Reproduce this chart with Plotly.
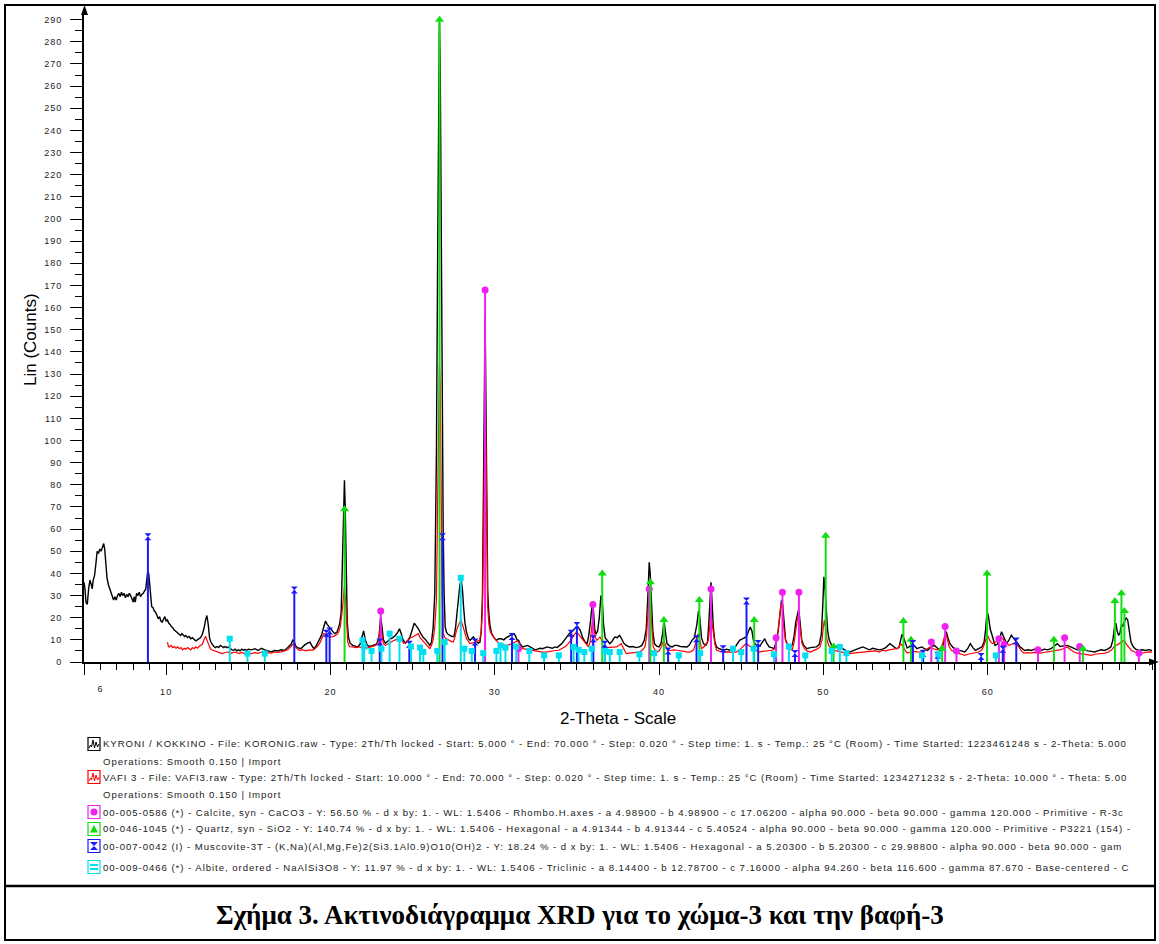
import plotly.graph_objects as go

# ---------------- data ----------------
kyroni_2theta = [5.00,5.06,5.12,5.20,5.28,5.36,5.44,5.50,5.56,5.64,5.72,5.80,5.88,5.96,6.04,6.12,6.20,6.26,6.32,6.40,6.48,6.56,6.64,6.72,6.80,6.88,6.96,7.04,7.12,7.20,7.28,7.36,7.44,7.52,7.60,7.68,7.76,7.84,7.92,8.00,8.06,8.12,8.20,8.28,8.36,8.44,8.52,8.60,8.68,8.76,8.82,8.88,8.94,9.00,9.06,9.12,9.20,9.28,9.36,9.44,9.52,9.60,9.68,9.76,9.84,9.92,10.00,10.08,10.16,10.24,10.32,10.40,10.48,10.56,10.64,10.72,10.80,10.88,10.96,11.04,11.12,11.20,11.30,11.40,11.50,11.60,11.70,11.80,11.90,12.00,12.10,12.20,12.30,12.40,12.48,12.56,12.64,12.72,12.80,12.90,13.00,13.10,13.20,13.30,13.40,13.50,13.60,13.70,13.80,13.90,14.00,14.10,14.20,14.30,14.40,14.50,14.60,14.70,14.80,14.90,15.00,15.20,15.40,15.60,15.80,16.00,16.20,16.40,16.60,16.80,17.00,17.20,17.40,17.60,17.70,17.80,17.90,18.00,18.20,18.40,18.60,18.75,18.90,19.00,19.15,19.30,19.45,19.60,19.70,19.80,19.90,20.00,20.10,20.25,20.40,20.55,20.65,20.72,20.80,20.85,20.90,20.96,21.02,21.10,21.20,21.35,21.50,21.65,21.80,21.92,22.02,22.12,22.25,22.40,22.60,22.80,22.95,23.05,23.12,23.22,23.35,23.50,23.65,23.80,23.95,24.10,24.20,24.30,24.42,24.55,24.70,24.85,25.00,25.10,25.20,25.35,25.50,25.65,25.80,25.95,26.05,26.15,26.25,26.35,26.45,26.52,26.58,26.63,26.68,26.74,26.80,26.86,26.92,26.98,27.06,27.16,27.27,27.40,27.52,27.62,27.70,27.80,27.88,27.96,28.04,28.10,28.18,28.28,28.40,28.50,28.60,28.70,28.85,29.00,29.10,29.18,29.25,29.31,29.36,29.41,29.46,29.51,29.57,29.63,29.70,29.80,29.95,30.10,30.25,30.40,30.55,30.70,30.85,31.00,31.15,31.25,31.35,31.45,31.55,31.70,31.85,32.00,32.15,32.30,32.45,32.60,32.75,32.90,33.05,33.20,33.35,33.50,33.65,33.80,33.95,34.10,34.25,34.40,34.55,34.67,34.80,34.95,35.05,35.20,35.35,35.50,35.62,35.72,35.82,35.92,36.00,36.08,36.16,36.26,36.36,36.46,36.54,36.62,36.72,36.85,37.00,37.15,37.30,37.45,37.60,37.72,37.85,38.00,38.20,38.40,38.60,38.80,38.95,39.10,39.22,39.32,39.40,39.46,39.54,39.62,39.72,39.85,40.00,40.12,40.22,40.30,40.38,40.48,40.65,40.80,40.95,41.10,41.30,41.50,41.70,41.85,42.00,42.15,42.30,42.40,42.48,42.58,42.70,42.85,42.95,43.03,43.10,43.16,43.22,43.30,43.40,43.50,43.65,43.80,43.95,44.10,44.30,44.50,44.70,44.90,45.10,45.30,45.45,45.55,45.65,45.75,45.85,46.00,46.15,46.30,46.43,46.55,46.70,46.85,47.00,47.12,47.25,47.35,47.45,47.52,47.60,47.70,47.85,48.00,48.12,48.22,48.32,48.42,48.50,48.58,48.68,48.80,49.00,49.20,49.40,49.58,49.75,49.88,49.96,50.03,50.10,50.18,50.26,50.35,50.50,50.65,50.80,51.00,51.20,51.40,51.60,51.80,52.00,52.20,52.40,52.60,52.80,53.00,53.20,53.40,53.60,53.80,54.05,54.25,54.45,54.60,54.70,54.78,54.88,54.98,55.10,55.25,55.40,55.55,55.70,55.85,56.00,56.15,56.34,56.55,56.76,56.95,57.10,57.25,57.38,57.48,57.58,57.70,57.90,58.05,58.20,58.40,58.60,58.78,58.94,59.10,59.25,59.45,59.65,59.78,59.87,59.96,60.05,60.15,60.30,60.45,60.58,60.71,60.84,60.95,61.05,61.15,61.30,61.44,61.55,61.65,61.80,61.95,62.10,62.25,62.45,62.65,62.85,63.05,63.25,63.45,63.65,63.85,64.05,64.24,64.40,64.60,64.85,65.05,65.25,65.45,65.65,65.90,66.10,66.30,66.50,66.70,66.90,67.10,67.30,67.50,67.62,67.72,67.80,67.88,67.96,68.05,68.14,68.22,68.32,68.42,68.52,68.62,68.72,68.85,69.00,69.20,69.40,69.60,69.80,70.00]
kyroni_counts = [36,33,27,26,33,37,35,33,37,39,44,50,49,51,50,52,53.5,51,45,38,35,33,31,29,28,29.5,28,30,31,29.5,31.5,30,31,29,30.5,29.5,31,30,28.5,27,29.5,27,31,30,31.5,29.5,30.5,31,32,33,37,41,40,34,28,25,24.5,23,22.5,21,19.5,20.5,18.5,18,19.5,20.5,18.5,19,17.5,17,16,15.5,14.5,14,13.5,13,12.5,12,12.8,12,11.5,12,11,11.5,10.5,11,10,9.5,10,10.5,11,12.5,15,19,21,17,11,9,8,7,6.5,7,6.5,7.5,7,6.5,7,6.5,6.8,6,5.5,5.3,5.8,5,5.5,5,5.8,5.3,5.6,5.2,5.8,5.5,6,5.2,6.2,5.5,5,4.6,5.2,5,5.5,5.2,6.5,8,9.8,9,7,6.5,6,7.5,8.5,9,7,6,7.5,9.5,12,16,18.5,17,16,15.5,14,12.8,13.5,17,22,40,72,82,70,38,18,11,8.5,7.5,7,6.8,8,11,14,10,7.5,7,7.5,8,11,20,17,10,8.5,9.5,10.5,11,12,13.5,15,13,10,8.5,9.5,11.5,15,17.5,16.5,15,12.8,11,10,8.5,7.5,9,15.5,31,95,180,265,289,270,190,110,60,30,16,13.5,12.5,12,11.5,11.5,16,22,30,35,37,32,25,18,13.5,10.5,9.8,10.5,11.3,9.5,8.5,9,14,30,75,130,156,120,60,32,23,17,13,11,9.8,10.5,10.5,10,11,11.5,12,12.8,12,10,9.8,8,6.8,7.2,7.5,6.8,6,5.5,5.8,6.2,6,6.5,6.8,6.5,6.2,6.8,6.5,7.5,8.5,10,11.5,13,13.5,14.5,15.8,16,14.3,11,9,8.3,12,18,25.5,24,15,12.5,14,20,30,28,17,11,9.5,8.3,9.5,11.3,11,12,10.5,8.5,7.5,6.8,7,6.5,6.8,7.5,9.8,15,30,45,40,25,14,8.3,7.2,6.8,8.5,13,18.8,14,8.3,7.2,6.8,7.5,7.5,7,6.8,6.8,7.8,9.8,11,17,23,20,11,8.3,7.5,9,18,30,36,28,15.8,9,6.8,6,5.5,5.3,5.8,5.3,5.3,7.5,9.8,10.5,11.3,14,15.8,14,9.5,8.3,7,7.5,9,10.5,8.5,6.8,6.5,6,9,14,21,27.8,26,17,9.8,7.5,6.8,8,12,18,22,24,18,10,7.5,6,6.5,6.8,6.8,8,12.8,25,38.5,33,22,14,10,7.5,6.8,7,6.8,5.8,5,4.5,5.2,5.8,6.3,6.8,6,5.5,6.2,6,5.5,5.8,6.5,8.3,7,6,6.5,10,12.5,11,8.3,6.3,7,8.3,7.2,6,6.5,6.8,6,5.2,6.8,7.5,6.2,5.2,6.8,11,13.7,11,8.3,6.5,6,5.2,5,4.5,6,8.3,6.5,5.2,6,6.8,9,14.4,22.9,20.5,15,11.3,7.5,8,9.8,13.7,11.5,10,8.3,10,12.1,11,9.8,8.5,7,6,5.2,5.5,5.2,5.8,5.5,5.2,5.8,5.5,6,7,8.3,7,7.2,7.5,6.8,6,5.5,5.8,5.2,5,4.8,4.5,5,5.5,5.2,5.8,6.8,10,16,17.5,14,12,13,17,16,18,20,19,14,9,7,5.8,5.2,5.5,5.2,5.6,5.2]

vafi_2theta = [10.08,10.14,10.20,10.30,10.40,10.50,10.60,10.70,10.80,10.90,11.00,11.10,11.20,11.30,11.40,11.50,11.60,11.70,11.80,11.90,12.00,12.10,12.20,12.30,12.40,12.48,12.56,12.66,12.76,12.86,12.96,13.10,13.25,13.40,13.55,13.70,13.85,14.00,14.15,14.30,14.45,14.60,14.75,14.90,15.05,15.20,15.40,15.60,15.80,16.00,16.20,16.40,16.60,16.80,17.00,17.20,17.40,17.60,17.75,17.90,18.10,18.30,18.50,18.70,18.90,19.05,19.20,19.35,19.50,19.60,19.70,19.80,19.95,20.10,20.25,20.40,20.50,20.60,20.70,20.78,20.85,20.92,20.98,21.05,21.15,21.30,21.45,21.60,21.75,21.90,22.00,22.15,22.30,22.45,22.60,22.75,22.90,23.00,23.06,23.14,23.22,23.35,23.50,23.65,23.80,23.95,24.10,24.20,24.30,24.45,24.60,24.75,24.90,25.05,25.20,25.35,25.45,25.60,25.75,25.90,26.05,26.15,26.25,26.35,26.45,26.52,26.58,26.63,26.68,26.74,26.80,26.86,26.96,27.06,27.16,27.27,27.37,27.47,27.57,27.67,27.77,27.87,27.96,28.05,28.15,28.28,28.40,28.50,28.65,28.80,28.95,29.08,29.17,29.25,29.31,29.36,29.41,29.46,29.51,29.57,29.64,29.72,29.85,30.00,30.15,30.30,30.45,30.60,30.75,30.90,31.05,31.20,31.35,31.45,31.58,31.70,31.85,32.00,32.15,32.30,32.45,32.60,32.75,32.90,33.10,33.30,33.50,33.70,33.90,34.10,34.30,34.47,34.65,34.80,34.98,35.10,35.25,35.40,35.55,35.70,35.80,35.88,35.95,36.03,36.12,36.22,36.32,36.40,36.50,36.60,36.80,37.00,37.20,37.40,37.55,37.70,37.85,38.00,38.20,38.40,38.60,38.80,39.00,39.15,39.24,39.32,39.40,39.47,39.55,39.64,39.75,39.85,40.00,40.15,40.28,40.38,40.50,40.70,40.90,41.10,41.30,41.50,41.70,41.90,42.10,42.25,42.38,42.48,42.58,42.75,42.90,43.00,43.08,43.15,43.22,43.30,43.40,43.50,43.70,43.90,44.10,44.30,44.50,44.70,44.90,45.10,45.30,45.45,45.60,45.80,46.00,46.10,46.30,46.50,46.70,46.90,47.05,47.18,47.30,47.42,47.50,47.58,47.70,47.85,48.00,48.10,48.22,48.33,48.45,48.53,48.62,48.70,48.85,49.00,49.20,49.40,49.60,49.80,49.92,50.00,50.06,50.14,50.22,50.35,50.50,50.60,50.80,51.00,51.20,51.40,51.60,51.80,52.00,52.20,52.40,52.60,52.80,53.00,53.20,53.40,53.60,53.80,54.00,54.20,54.40,54.55,54.70,54.85,55.00,55.10,55.30,55.50,55.70,55.90,56.10,56.30,56.50,56.70,56.90,57.10,57.25,57.35,57.45,57.55,57.65,57.80,58.00,58.20,58.40,58.60,58.80,59.00,59.25,59.45,59.65,59.80,59.90,59.99,60.08,60.18,60.30,60.45,60.60,60.72,60.80,60.92,61.05,61.20,61.30,61.45,61.60,61.75,61.90,62.05,62.20,62.40,62.60,62.80,63.00,63.20,63.40,63.60,63.80,64.00,64.20,64.40,64.60,64.85,65.05,65.25,65.45,65.65,65.85,66.05,66.30,66.50,66.70,66.90,67.15,67.35,67.55,67.70,67.85,68.00,68.15,68.30,68.45,68.60,68.75,68.95,69.15,69.40,69.60,69.80,70.00]
vafi_counts = [9,7,6.8,7.5,6.5,7,6.2,6.8,6,6.5,5.5,6.2,5.8,6.5,6,5.5,6.5,6,6.8,6.2,7,7.5,8,10,11.6,10,8,6.5,5.5,5.2,4.8,4.5,4,3.8,4.2,4.5,4.2,4,4.5,4,3.8,4.3,3.8,3.5,4,3.8,4.2,3.9,4.5,3.8,4.2,4,4.5,4.3,4.6,5,5.5,7,8.3,6.5,5.3,5.5,5,5.5,5.3,6,7,8.5,11,12.8,12.5,11.5,11.3,11.3,11.8,12.5,13.5,16,22,30,34,28,15,9,7,6.8,6.5,6.5,6.8,6.5,6.8,6.2,6.5,6.8,7,7.5,9,13,16.6,12,8.3,7.5,8.3,9,9.5,10,10.5,11.3,10,8.5,9,10,11,11.5,12,12.8,11,9.8,8.3,7,6,7.5,10,15.8,28,70,120,135,125,75,30,13,11,10.5,10,9.8,9.2,9,11,14.3,16.5,18,18.5,16.6,14,10.5,9,8.3,8.6,9,9.2,9.8,14,23,55,95,120,100,50,25,17,14,12,10.5,9.2,8.3,7.8,7.5,7.5,7.8,8.3,8.8,9.5,9,7,6,5.8,5.5,5.3,5.3,5,4.8,4.6,4.5,4.5,4.8,5,5.2,5.3,6,7,8.3,10,12,13.5,12.5,11,9.8,8,6.8,9,14,18.8,16,11,9.8,10.5,11.3,10,6.8,6.5,6.6,6.8,6.8,7.5,8.3,6,3.8,4,4.2,4.5,4.5,5.5,7,12,24,32,26,14,7,5.5,4.5,5,7,9.8,8,5.3,5.2,5.5,5.3,5,4.8,4.6,4.5,5.5,9,12.8,10,6,7,8.5,9.8,16,21.8,18,12.8,8,5.3,4.8,4.5,4.6,4.5,4.5,4.5,5.5,7,8.3,7.5,6.8,6,5,4.5,4.8,5,5.2,5.3,6,10,18,26,24,16,9.8,7,5.8,5.3,9,15,21,19,12,8.3,6,5,4.5,5,5.8,6.8,10,16,18.8,15,9.8,7,5.8,5.3,5,4.5,4.2,4,3.8,4,4.2,4.4,4.3,4.5,4.7,4.9,5,4.5,5.3,5,5.5,5.8,6,6.2,8.3,7,5,4,4.5,4.8,4.6,4.5,5,5.8,6.8,6,5.5,6,8,11,12.9,10,7,5.2,4.5,4,3.5,3,3.5,3.8,4,4.5,5.5,8,10.5,12.1,10.5,9,8.3,8.8,9.5,10.5,11.3,10.5,9,8.3,7.5,8,8.5,8.3,6.5,5,4,4.2,4,4.3,4.1,4,4.3,4.5,4.6,4.8,5.2,5.5,6,6.8,5.5,4.5,4,3.8,3.5,3.2,3,3.5,3.6,3.8,4,4.5,5.5,7,7.5,8.3,9,9.8,8,6.5,5.2,4.5,4.2,4,4.3,4.6,4.5]

calcite_2theta = [23.06, 29.41, 31.44, 35.97, 39.40, 43.16, 47.12, 47.51, 48.51, 56.57, 57.41, 58.10, 60.68, 61.00, 63.06, 64.68, 65.60, 69.20]
calcite_counts = [23, 168, 6, 26, 33, 33, 11, 31.5, 31.5, 9, 16, 5, 10.5, 8, 5.5, 11, 7, 4]

quartz_2theta = [20.86, 26.64, 36.54, 39.47, 40.29, 42.45, 45.79, 50.14, 50.62, 54.87, 55.33, 57.23, 59.96, 64.03, 65.79, 67.74, 68.14, 68.32]
quartz_counts = [69, 290, 40, 36, 19, 28, 19, 57, 7, 18.5, 10, 6, 40, 10, 6, 27.5, 31, 23]

muscovite_2theta = [8.89, 17.80, 19.75, 19.95, 23.00, 24.80, 26.82, 28.80, 31.05, 34.65, 35.00, 36.00, 36.70, 40.55, 42.28, 43.90, 45.32, 46.03, 48.27, 55.45, 56.07, 56.96, 59.60, 60.92, 61.74]
muscovite_counts = [56.5, 32.5, 13, 14, 9, 8, 56.5, 9, 11.5, 13, 16.5, 10.5, 8, 5, 10.5, 6, 27.5, 8.3, 3.8, 8.3, 4, 3, 2.5, 5.7, 9.5]

albite_2theta = [13.87, 14.95, 16.00, 21.95, 22.05, 22.50, 23.10, 23.60, 24.20, 24.90, 25.45, 25.65, 26.50, 26.95, 27.93, 28.15, 28.60, 29.30, 30.10, 30.35, 30.65, 31.30, 32.10, 33.00, 33.90, 34.80, 35.10, 35.45, 35.90, 36.70, 37.00, 37.60, 38.80, 39.70, 41.20, 42.50, 44.50, 45.00, 45.75, 47.00, 47.90, 48.90, 50.50, 51.00, 51.40, 56.00, 57.00, 60.50]
albite_counts = [10.5, 3.8, 3.8, 9.8, 7, 5, 6, 12.8, 10.5, 7, 6.5, 4.5, 5, 9, 38, 6, 5, 4, 5, 7.5, 6.5, 7, 5, 3, 3, 6.8, 5.5, 4.5, 6, 5, 4.5, 4.5, 3.5, 4, 3, 4, 6, 4.5, 6, 3.5, 7, 3, 5, 6.8, 4, 3, 3.5, 3]

y_tick_values = list(range(0, 300, 10))
x_tick_values = [5, 10, 20, 30, 40, 50, 60]
x_tick_labels = ["", "10", "20", "30", "40", "50", "60"]

legend_rows = [
    ("KYRONI / KOKKINO - File: KORONIG.raw - Type: 2Th/Th locked - Start: 5.000 ° - End: 70.000 ° - Step: 0.020 ° - Step time: 1. s - Temp.: 25 °C (Room) - Time Started: 1223461248 s - 2-Theta: 5.000", "kyroni"),
    ("Operations: Smooth 0.150 | Import", None),
    ("VAFI 3 - File: VAFI3.raw - Type: 2Th/Th locked - Start: 10.000 ° - End: 70.000 ° - Step: 0.020 ° - Step time: 1. s - Temp.: 25 °C (Room) - Time Started: 1234271232 s - 2-Theta: 10.000 ° - Theta: 5.00", "vafi"),
    ("Operations: Smooth 0.150 | Import", None),
    ("00-005-0586 (*) - Calcite, syn - CaCO3 - Y: 56.50 % - d x by: 1. - WL: 1.5406 - Rhombo.H.axes - a 4.98900 - b 4.98900 - c 17.06200 - alpha 90.000 - beta 90.000 - gamma 120.000 - Primitive - R-3c", "calcite"),
    ("00-046-1045 (*) - Quartz, syn - SiO2 - Y: 140.74 % - d x by: 1. - WL: 1.5406 - Hexagonal - a 4.91344 - b 4.91344 - c 5.40524 - alpha 90.000 - beta 90.000 - gamma 120.000 - Primitive - P3221 (154) -", "quartz"),
    ("00-007-0042 (I) - Muscovite-3T - (K,Na)(Al,Mg,Fe)2(Si3.1Al0.9)O10(OH)2 - Y: 18.24 % - d x by: 1. - WL: 1.5406 - Hexagonal - a 5.20300 - b 5.20300 - c 29.98800 - alpha 90.000 - beta 90.000 - gam", "muscovite"),
    ("00-009-0466 (*) - Albite, ordered - NaAlSi3O8 - Y: 11.97 % - d x by: 1. - WL: 1.5406 - Triclinic - a 8.14400 - b 12.78700 - c 7.16000 - alpha 94.260 - beta 116.600 - gamma 87.670 - Base-centered - C", "albite"),
]
legend_row_y = [744, 761, 777, 794, 812, 829, 846, 867]

caption = "Σχήμα 3. Ακτινοδιάγραμμα XRD για το χώμα-3 και την βαφή-3"

# ---------------- layout helpers ----------------
W, H = 1159, 944
ML, MR, MT, MB = 84, 7, 12, 282
PW, PH = W - ML - MR, H - MT - MB
Y_PER_PX = 1 / 2.215


def pxx(x):
    return (x - ML) / PW


def pxy(y):
    return (H - MB - y) / PH


COL = dict(kyroni="#000000", vafi="#ff0000", calcite="#ee22ee", quartz="#11dd11",
           muscovite="#1a1aff", albite="#00e0f0")

fig = go.Figure()
fig.add_trace(go.Scatter(x=kyroni_2theta, y=kyroni_counts, mode="lines",
                         line=dict(color=COL["kyroni"], width=1.4), hoverinfo="skip"))
fig.add_trace(go.Scatter(x=vafi_2theta, y=vafi_counts, mode="lines",
                         line=dict(color=COL["vafi"], width=1.2), hoverinfo="skip"))


def sticks(xs, hs, color, symbol, size):
    lx, ly = [], []
    for x, h in zip(xs, hs):
        lx += [x, x, None]
        ly += [0, h, None]
    fig.add_trace(go.Scatter(x=lx, y=ly, mode="lines", line=dict(color=color, width=2),
                             hoverinfo="skip", cliponaxis=False))
    fig.add_trace(go.Scatter(x=xs, y=hs, mode="markers", cliponaxis=False, hoverinfo="skip",
                             marker=dict(symbol=symbol, color=color, size=size, line=dict(width=0))))


sticks(calcite_2theta, calcite_counts, COL["calcite"], "circle", 7)
sticks(quartz_2theta, quartz_counts, COL["quartz"], "triangle-up", 8)
sticks(muscovite_2theta, muscovite_counts, COL["muscovite"], "hourglass", 7)
sticks(albite_2theta, albite_counts, COL["albite"], "square", 6)

TICK_FS = 9.1
LEG_FS = 9.6
tickfont = dict(family="Liberation Sans, Arial", size=TICK_FS, color="#222222")

fig.update_layout(
    width=W, height=H, margin=dict(l=ML, r=MR, t=MT, b=MB, autoexpand=False),
    paper_bgcolor="white", plot_bgcolor="white", showlegend=False,
    xaxis=dict(range=[5, 70], showgrid=False, zeroline=False, showline=True, linecolor="black",
               linewidth=1.5, ticks="outside", tickmode="array", tickvals=x_tick_values,
               ticktext=x_tick_labels, ticklen=11, tickwidth=1.3, tickcolor="black",
               minor=dict(tickmode="linear", tick0=5, dtick=1, ticks="outside", ticklen=6,
                          tickwidth=1.2, tickcolor="black"),
               tickfont=tickfont, ticklabelstandoff=9),
    yaxis=dict(range=[0, PH * Y_PER_PX], showgrid=False, zeroline=False, showline=True,
               linecolor="black", linewidth=1.5, ticks="outside", tickmode="array",
               tickvals=y_tick_values, ticklen=12, tickwidth=1.3, tickcolor="black",
               minor=dict(tickmode="linear", tick0=0, dtick=5, ticks="outside", ticklen=7,
                          tickwidth=1.2, tickcolor="black"),
               tickfont=tickfont, ticklabelstandoff=6),
)

shapes = []
ann = []

# arrows on axes
shapes.append(dict(type="path", xref="paper", yref="paper", fillcolor="black", line=dict(width=0),
                   path=f"M {pxx(84.5)},{pxy(5)} L {pxx(81)},{pxy(15)} L {pxx(88)},{pxy(15)} Z"))
shapes.append(dict(type="path", xref="paper", yref="paper", fillcolor="black", line=dict(width=0),
                   path=f"M {pxx(1159)},{pxy(662)} L {pxx(1149)},{pxy(658.5)} L {pxx(1149)},{pxy(665.5)} Z"))

# outer frame and caption separator
shapes.append(dict(type="rect", xref="paper", yref="paper", x0=pxx(5), x1=pxx(1155),
                   y0=pxy(940), y1=pxy(5), line=dict(color="black", width=2)))
shapes.append(dict(type="line", xref="paper", yref="paper", x0=pxx(5), x1=pxx(1155),
                   y0=pxy(886), y1=pxy(886), line=dict(color="black", width=2.5)))

# extra "6" tick label
ann.append(dict(x=6, xref="x", y=pxy(689), yref="paper", text="6", showarrow=False,
                font=tickfont, xanchor="center", yanchor="middle"))

# axis titles
ann.append(dict(x=pxx(30), y=pxy(340), xref="paper", yref="paper", text="Lin (Counts)",
                textangle=-90, showarrow=False, xanchor="center", yanchor="middle",
                font=dict(family="Liberation Sans, Arial", size=17, color="black")))
ann.append(dict(x=pxx(618), y=pxy(718), xref="paper", yref="paper", text="2-Theta - Scale",
                showarrow=False, xanchor="center", yanchor="middle",
                font=dict(family="Liberation Sans, Arial", size=17, color="black")))

# legend
legfont = dict(family="Liberation Sans, Arial", size=LEG_FS, color="#222222")
for (text, key), yy in zip(legend_rows, legend_row_y):
    ann.append(dict(x=pxx(101), y=pxy(yy), xref="paper", yref="paper", text=text, showarrow=False,
                    xanchor="left", yanchor="middle", font=legfont))
    if key is None:
        continue
    c = COL[key]
    x0, x1, y0, y1 = 88, 100, yy - 6.5, yy + 6.5
    shapes.append(dict(type="rect", xref="paper", yref="paper", x0=pxx(x0), x1=pxx(x1),
                       y0=pxy(y1), y1=pxy(y0), line=dict(color=c, width=1.2), fillcolor="white"))
    if key in ("kyroni", "vafi"):
        pts = [(89, yy + 4), (90.5, yy + 1), (91.5, yy + 3), (93, yy - 4), (94.5, yy + 4),
               (96, yy - 2), (97.5, yy + 3), (99, yy)]
        p = "M " + " L ".join(f"{pxx(a)},{pxy(b)}" for a, b in pts)
        shapes.append(dict(type="path", xref="paper", yref="paper", path=p, line=dict(color=c, width=1)))
    elif key == "calcite":
        shapes.append(dict(type="circle", xref="paper", yref="paper", x0=pxx(90.5), x1=pxx(97.5),
                           y0=pxy(yy + 3.5), y1=pxy(yy - 3.5), fillcolor=c, line=dict(width=0)))
    elif key == "quartz":
        shapes.append(dict(type="path", xref="paper", yref="paper", fillcolor=c, line=dict(width=0),
                           path=f"M {pxx(94)},{pxy(yy-4)} L {pxx(90)},{pxy(yy+3.5)} L {pxx(98)},{pxy(yy+3.5)} Z"))
    elif key == "muscovite":
        shapes.append(dict(type="path", xref="paper", yref="paper", fillcolor=c, line=dict(width=0),
                           path=(f"M {pxx(90)},{pxy(yy-4)} L {pxx(98)},{pxy(yy-4)} L {pxx(90)},{pxy(yy+4)} "
                                 f"L {pxx(98)},{pxy(yy+4)} Z")))
    elif key == "albite":
        for dy in (-2, 2):
            shapes.append(dict(type="line", xref="paper", yref="paper", x0=pxx(90), x1=pxx(98),
                               y0=pxy(yy + dy), y1=pxy(yy + dy), line=dict(color=c, width=2)))

# caption
ann.append(dict(x=pxx(580), y=pxy(915), xref="paper", yref="paper", text="<b>" + caption + "</b>",
                showarrow=False, xanchor="center", yanchor="middle",
                font=dict(family="Liberation Serif, Times New Roman", size=27, color="black")))

fig.update_layout(shapes=shapes, annotations=ann)

# The software-rendered labels of the original are letter-spaced; mimic that with SVG
# letter-spacing, keeping left-anchored legend rows pinned at their left edge.
post = """
(function(){
  function apply(){
    document.querySelectorAll('text.annotation-text').forEach(function(t){
      if (t.getAttribute('data-ls')) { return; }
      var fs = parseFloat(t.style.fontSize);
      if (Math.abs(fs - %LEG%) < 0.01) {
        var b0 = t.getBBox();
        t.setAttribute('letter-spacing', '0.95');
        t.setAttribute('text-anchor', 'start');
        t.setAttribute('x', b0.x);
        t.setAttribute('data-ls', '1');
      } else if (Math.abs(fs - %TICK%) < 0.01) {
        t.setAttribute('letter-spacing', '1');
        t.setAttribute('data-ls', '1');
      }
    });
    document.querySelectorAll('g.xtick text, g.ytick text').forEach(function(t){
      t.setAttribute('letter-spacing', '1');
    });
  }
  var gd = document.getElementById('{plot_id}');
  apply(); setTimeout(apply, 50); setTimeout(apply, 400);
  if (gd && gd.on) { gd.on('plotly_afterplot', apply); }
})();
""".replace("%LEG%", str(LEG_FS)).replace("%TICK%", str(TICK_FS))
fig.write_html("out.html", post_script=post)
